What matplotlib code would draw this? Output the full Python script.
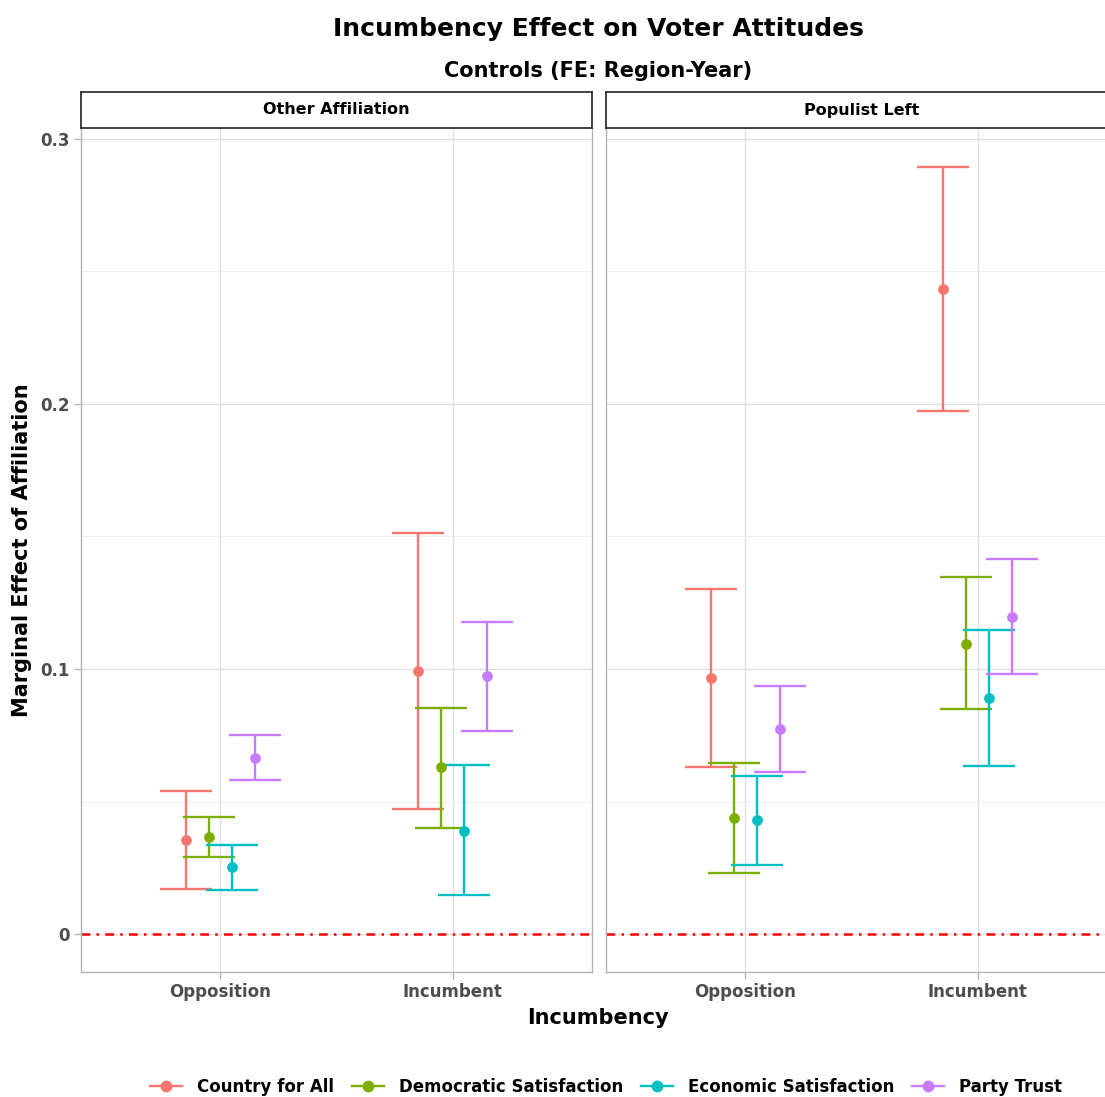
import matplotlib
matplotlib.use("Agg")
import matplotlib.pyplot as plt
import numpy as np
from matplotlib.lines import Line2D

plt.rcParams['font.family'] = ['DejaVu Sans']
plt.rcParams['font.weight'] = 'bold'

# data
incumbency = ['Opposition', 'Incumbent']
facets = ['Other Affiliation', 'Populist Left']
outcomes = ['Country for All', 'Democratic Satisfaction', 'Economic Satisfaction', 'Party Trust']
colors = ['#F8766D', '#7CAE00', '#00BFC4', '#C77CFF']
y_ticks = [0, 0.1, 0.2, 0.3]
y_tick_labels = ['0', '0.1', '0.2', '0.3']

# rows = outcome, columns = [Opposition, Incumbent]
other_est = [[0.0355, 0.0994], [0.0368, 0.0629], [0.0253, 0.0390], [0.0665, 0.0973]]
other_lo = [[0.0172, 0.0472], [0.0292, 0.0400], [0.0168, 0.0150], [0.0581, 0.0768]]
other_hi = [[0.0540, 0.1512], [0.0442, 0.0855], [0.0337, 0.0640], [0.0750, 0.1178]]

pl_est = [[0.0967, 0.2432], [0.0438, 0.1096], [0.0430, 0.0890], [0.0773, 0.1197]]
pl_lo = [[0.0631, 0.1973], [0.0232, 0.0848], [0.0263, 0.0633], [0.0613, 0.0980]]
pl_hi = [[0.1301, 0.2894], [0.0645, 0.1348], [0.0598, 0.1147], [0.0937, 0.1414]]

panel_data = [(other_est, other_lo, other_hi), (pl_est, pl_lo, pl_hi)]

W, H = 1105, 1097
fig = plt.figure(figsize=(W / 100, H / 100), dpi=100)

panel_left = [81, 606]
panel_w = 511
panel_top, panel_bot = 128, 972
strip_h = 36
offsets = [-0.15, -0.05, 0.05, 0.15]
cap = 0.112
border = '#B3B3B3'
lw = 1.7

for p, (est, lo, hi) in enumerate(panel_data):
    ax = fig.add_axes([panel_left[p] / W, 1 - panel_bot / H, panel_w / W, (panel_bot - panel_top) / H])
    ax.set_xlim(0.4, 2.6)
    ax.set_ylim(-0.0142, 0.3040)
    ax.set_yticks(y_ticks)
    ax.set_yticks([0.05, 0.15, 0.25], minor=True)
    ax.set_xticks([1, 2])
    ax.grid(True, which='major', color='#DEDEDE', lw=0.9, zorder=0)
    ax.grid(True, which='minor', axis='y', color='#EDEDED', lw=0.6, zorder=0)
    ax.set_axisbelow(True)
    for s in ['left', 'bottom', 'right']:
        ax.spines[s].set_color(border)
        ax.spines[s].set_linewidth(1.0)
    ax.spines['top'].set_visible(False)
    ax.tick_params(which='both', color=border, length=5, width=1.0, labelcolor='#4D4D4D', labelsize=12, pad=3)
    ax.tick_params(which='minor', length=0)
    ax.set_xticklabels(incumbency, fontweight='bold')
    if p == 0:
        ax.set_yticklabels(y_tick_labels, fontweight='bold')
    else:
        ax.tick_params(axis='y', which='both', left=False, labelleft=False)

    ax.axhline(0, color='red', lw=1.8, linestyle=(0, (3.5, 2.5, 1.0, 2.5)), zorder=1)

    for i, name in enumerate(outcomes):
        xs = np.arange(1, 3) + offsets[i]
        ax.vlines(xs, lo[i], hi[i], color=colors[i], lw=lw, zorder=3)
        ax.hlines(lo[i], xs - cap, xs + cap, color=colors[i], lw=lw, zorder=3)
        ax.hlines(hi[i], xs - cap, xs + cap, color=colors[i], lw=lw, zorder=3)
        ax.scatter(xs, est[i], s=60, color=colors[i], zorder=4, linewidths=0)

    sax = fig.add_axes([panel_left[p] / W, 1 - panel_top / H, panel_w / W, strip_h / H])
    sax.set_xticks([])
    sax.set_yticks([])
    for s in sax.spines.values():
        s.set_color('#333333')
        s.set_linewidth(1.3)
    sax.text(0.5, 0.5, facets[p], ha='center', va='center', fontsize=11.5, fontweight='bold',
             transform=sax.transAxes)

fig.text(598 / W, 1 - 36 / H, 'Incumbency Effect on Voter Attitudes', ha='center', va='baseline',
         fontsize=18, fontweight='bold')
fig.text(598 / W, 1 - 77 / H, 'Controls (FE: Region-Year)', ha='center', va='baseline',
         fontsize=15, fontweight='bold')
fig.text(598 / W, 1 - 1018 / H, 'Incumbency', ha='center', va='center', fontsize=15, fontweight='bold')
fig.text(22 / W, 1 - 550 / H, 'Marginal Effect of Affiliation', ha='center', va='center',
         rotation=90, fontsize=15, fontweight='bold')

handles = [Line2D([], [], color=c, lw=lw, marker='o', markersize=7.5) for c in colors]
fig.legend(handles, outcomes, loc='center', bbox_to_anchor=(606 / W, 10 / H), ncol=4, frameon=False,
           handlelength=1.9, handletextpad=0.9, columnspacing=1.1,
           prop={'weight': 'bold', 'size': 12})

fig.savefig('out.png', dpi=100)
